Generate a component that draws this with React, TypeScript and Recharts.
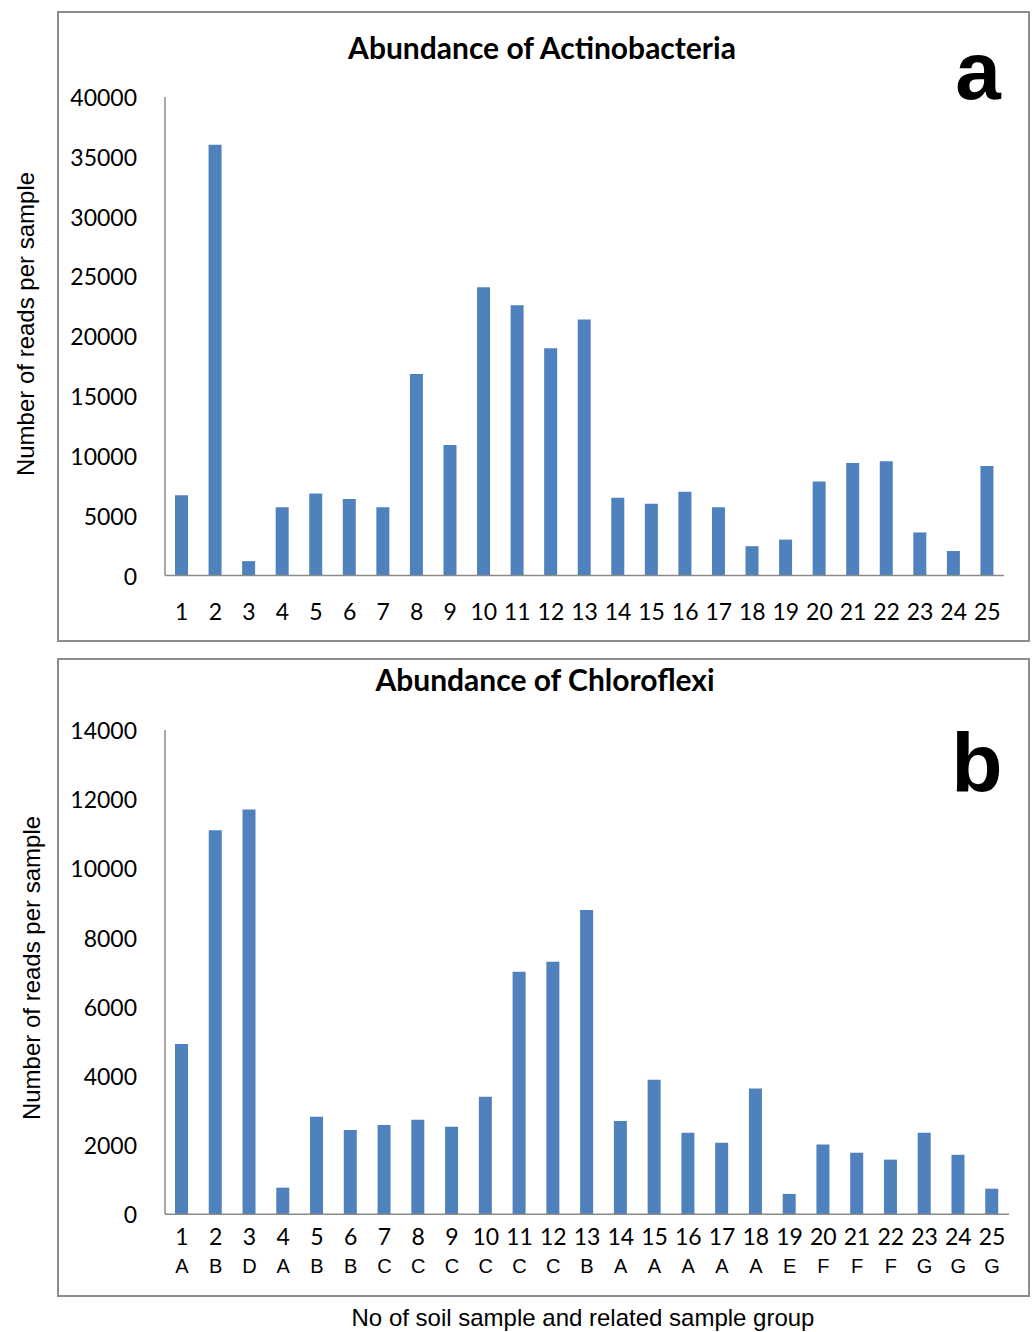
import React from 'react';
import { BarChart, Bar, XAxis, YAxis } from 'recharts';

const SAMPLES = ['1', '2', '3', '4', '5', '6', '7', '8', '9', '10', '11', '12', '13', '14', '15', '16', '17', '18', '19', '20', '21', '22', '23', '24', '25'];
const GROUPS = ['A', 'B', 'D', 'A', 'B', 'B', 'C', 'C', 'C', 'C', 'C', 'C', 'B', 'A', 'A', 'A', 'A', 'A', 'E', 'F', 'F', 'F', 'G', 'G', 'G'];

const ACTINO = [6700, 36000, 1200, 5700, 6850, 6400, 5700, 16850, 10900, 24100, 22600, 19000, 21400, 6500, 6000, 7000, 5700, 2450, 3000, 7850, 9400, 9550, 3600, 2050, 9150];
const CHLORO = [4920, 11100, 11700, 770, 2820, 2440, 2580, 2730, 2530, 3400, 7010, 7300, 8800, 2700, 3890, 2360, 2070, 3640, 590, 2020, 1780, 1580, 2360, 1720, 740];

const ACTINO_TICKS = [0, 5000, 10000, 15000, 20000, 25000, 30000, 35000, 40000];
const CHLORO_TICKS = [0, 2000, 4000, 6000, 8000, 10000, 12000, 14000];

const BLUE = '#4F81BD';
const AXIS = '#8a8a8a';
const BORDER = '#8c8c8c';
const CAL = 'Lato, "Open Sans", sans-serif';
const ARIAL = '"Liberation Sans", Arial, sans-serif';

const dataA = SAMPLES.map((s, i) => ({ sample: s, reads: ACTINO[i] }));
const dataB = SAMPLES.map((s, i) => ({ sample: s, group: GROUPS[i], reads: CHLORO[i] }));

function YTick({ x, y, payload }: any) {
  return (
    <text x={x - 28} y={y} textAnchor="end" dominantBaseline="central" fontFamily={CAL} fontSize={23} fill="#000">
      {payload.value}
    </text>
  );
}

function XTickA({ x, y, payload }: any) {
  return (
    <text x={x} y={y + 44} textAnchor="middle" fontFamily={CAL} fontSize={23} fill="#000">
      {payload.value}
    </text>
  );
}

function XTickB({ x, y, payload, index }: any) {
  return (
    <g>
      <text x={x} y={y + 31} textAnchor="middle" fontFamily={CAL} fontSize={23} fill="#000">
        {payload.value}
      </text>
      <text x={x} y={y + 59} textAnchor="middle" fontFamily={ARIAL} fontSize={20} fill="#000">
        {GROUPS[index]}
      </text>
    </g>
  );
}

const box = (top: number, height: number): React.CSSProperties => ({
  position: 'absolute', left: 57, top, width: 973, height, border: `2px solid ${BORDER}`, boxSizing: 'border-box',
});

export default function App() {
  return (
    <div style={{ position: 'absolute', left: 0, top: 0, width: 1036, height: 1332, background: '#fff', overflow: 'hidden' }}>
      <div style={box(11, 631)} />
      <div style={box(658, 639)} />

      <div style={{ position: 'absolute', left: 0, top: 0 }}>
        <BarChart width={1036} height={650} data={dataA} margin={{ top: 97, right: 32, bottom: 0, left: 0 }}>
          <YAxis width={165} domain={[0, 40000]} ticks={ACTINO_TICKS} interval={0} tickLine={false} tickSize={0} tickMargin={0}
            axisLine={{ stroke: AXIS, strokeWidth: 1.5 }} tick={<YTick />} />
          <XAxis dataKey="sample" height={74.5} interval={0} tickLine={false} tickSize={0} tickMargin={0}
            axisLine={{ stroke: AXIS, strokeWidth: 1.5 }} tick={<XTickA />} />
          <Bar dataKey="reads" fill={BLUE} barSize={13} isAnimationActive={false} />
        </BarChart>
      </div>

      <div style={{ position: 'absolute', left: 0, top: 650 }}>
        <BarChart width={1036} height={682} data={dataB} margin={{ top: 80, right: 27, bottom: 0, left: 0 }}>
          <YAxis width={165} domain={[0, 14000]} ticks={CHLORO_TICKS} interval={0} tickLine={false} tickSize={0} tickMargin={0}
            axisLine={{ stroke: AXIS, strokeWidth: 1.5 }} tick={<YTick />} />
          <XAxis dataKey="sample" height={117.7} interval={0} tickLine={false} tickSize={0} tickMargin={0}
            axisLine={{ stroke: AXIS, strokeWidth: 1.5 }} tick={<XTickB />} />
          <Bar dataKey="reads" fill={BLUE} barSize={13} isAnimationActive={false} />
        </BarChart>
      </div>

      <svg width={1036} height={1332} style={{ position: 'absolute', left: 0, top: 0, pointerEvents: 'none' }}>
        <text x={542} y={59} textAnchor="middle" fontFamily={CAL} fontWeight="bold" fontSize={30} fill="#000">Abundance of Actinobacteria</text>
        <text x={545} y={691} textAnchor="middle" fontFamily={CAL} fontWeight="bold" fontSize={30} fill="#000">Abundance of Chloroflexi</text>
        <text x={978} y={99} textAnchor="middle" fontFamily={ARIAL} fontWeight="bold" fontSize={82} fill="#000">a</text>
        <text x={977} y={792} textAnchor="middle" fontFamily={ARIAL} fontWeight="bold" fontSize={84} fill="#000">b</text>
        <text transform="translate(25,324) rotate(-90)" textAnchor="middle" dominantBaseline="central" fontFamily={ARIAL} fontSize={24} fill="#000">Number of reads per sample</text>
        <text transform="translate(31,968) rotate(-90)" textAnchor="middle" dominantBaseline="central" fontFamily={ARIAL} fontSize={24} fill="#000">Number of reads per sample</text>
        <text x={583} y={1326} textAnchor="middle" fontFamily={ARIAL} fontSize={24} fill="#000">No of soil sample and related sample group</text>
      </svg>
    </div>
  );
}
